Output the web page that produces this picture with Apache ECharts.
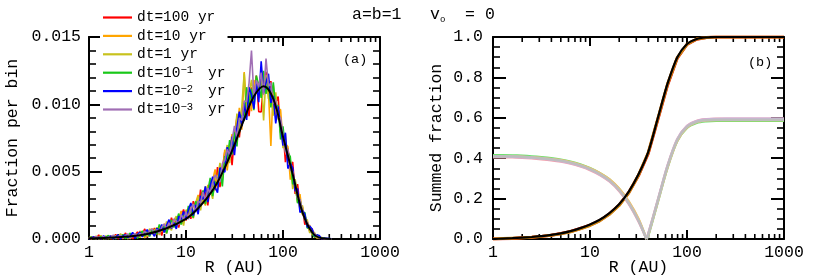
<!DOCTYPE html>
<html><head><meta charset="utf-8">
<script src="https://cdn.jsdelivr.net/npm/echarts@6/dist/echarts.min.js"></script>
<style>html,body{margin:0;padding:0;background:#fff}#c{width:830px;height:276px}</style>
</head><body><div id="c"></div>
<script>
const FONT = '"Liberation Mono", "DejaVu Sans Mono", monospace';

// ---------- panel (a): histogram bins (R in AU) ----------
const binR = [1,1.059,1.122,1.189,1.259,1.334,1.413,1.496,1.585,1.679,
1.778,1.884,1.995,2.113,2.239,2.371,2.512,2.661,2.818,2.985,
3.162,3.35,3.548,3.758,3.981,4.217,4.467,4.732,5.012,5.309,
5.623,5.957,6.31,6.683,7.079,7.499,7.943,8.414,8.913,9.441,
10,10.59,11.22,11.89,12.59,13.34,14.13,14.96,15.85,16.79,
17.78,18.84,19.95,21.13,22.39,23.71,25.12,26.61,28.18,29.85,
31.62,33.5,35.48,37.58,39.81,42.17,44.67,47.32,50.12,53.09,
56.23,59.57,63.1,66.83,70.79,74.99,79.43,84.14,89.13,94.41,
100,105.9,112.2,118.9,125.9,133.4,141.3,149.6,158.5,167.9,
177.8,188.4,199.5,211.3,223.9,237.1,251.2,266.1,281.8,298.5,316.2];

// fraction per bin, in units of 1e-5
const histDt100 = [9,0,17,3,30,0,12,4,19,0, 13,34,1,22,0,45,12,34,0,29, 53,16,34,75,14,51,42,82,34,83,
26,111,91,73,158,101,153,85,166,219, 138,198,150,281,232,206,366,265,347,249, 414,394,363,534,385,521,648,559,700,549,
767,903,754,940,920,1095,912,1126,1045,1213, 946,943,1177,1242,1075,1172,961,1012,1058,790, 818,571,677,538,572,335,407,243,239,107,
128,57,77,13,24,4,7,0,3,0,0];
const histDt10 = [2,17,8,0,15,24,0,16,7,24, 0,18,26,4,35,13,29,1,40,22, 10,59,40,8,58,31,78,27,65,91,
58,96,40,134,95,145,79,149,208,131, 207,170,258,154,269,327,240,301,248,402, 335,434,517,366,497,475,664,510,674,778,
685,799,974,811,1240,948,1094,950,1180,1133, 1050,1259,1095,1184,1098,690,1142,902,962,961, 712,707,686,441,505,404,272,333,180,180,
103,102,32,41,6,20,3,7,0,1,0];
const histDt1 = [13,1,9,21,0,12,6,23,0,17, 6,25,13,39,5,28,0,26,43,14, 39,10,56,37,20,77,37,65,86,29,
79,52,130,93,64,138,169,113,158,100, 216,203,165,256,221,316,212,325,391,300, 368,298,468,439,565,436,600,698,564,743,
713,931,782,979,1230,906,1073,1181,1034,1190, 1097,1200,880,1219,1040,1115,916,1089,888,890, 674,780,566,587,370,445,336,221,249,137,
143,45,60,47,9,16,11,1,4,0,0];
const histDtm1 = [7,15,1,10,4,20,0,12,26,5, 22,0,21,11,33,2,26,44,16,38, 4,35,60,22,51,19,69,57,36,108,
67,99,43,110,141,86,130,189,107,183, 152,245,199,159,280,234,298,361,260,358, 454,319,426,403,520,390,616,584,734,628,
795,687,926,910,879,1127,998,1115,956,1213, 1143,1048,1248,1078,1180,977,1164,968,994,739, 837,653,643,611,408,418,266,294,190,197,
80,90,43,13,33,6,8,7,0,3,0];
const histDtm2 = [0,10,16,2,14,0,24,7,14,23, 1,16,31,1,22,31,9,23,49,5, 33,52,16,48,69,30,49,20,80,52,
108,49,101,144,78,123,75,169,145,205, 142,217,268,174,253,184,320,295,391,274, 395,462,384,344,528,513,496,682,615,760,
622,828,946,840,1011,885,1126,1071,967,1167, 1016,1320,1083,1160,1227,1011,1063,858,984,840, 693,789,523,562,528,356,375,198,215,184,
88,96,75,24,30,25,0,5,5,4,2];
const histDtm3 = [12,3,10,18,2,9,18,0,16,8, 29,5,18,27,9,25,38,6,25,41, 17,42,28,58,31,60,76,42,70,43,
87,111,75,120,84,149,134,105,183,144, 202,146,224,261,200,283,269,349,285,377, 342,421,475,447,423,559,584,666,623,734,
840,752,898,880,1022,1022,1158,1400,1056,1178, 1132,1235,1071,1340,1133,1160,1006,1034,899,901, 770,644,669,514,498,411,304,294,210,137,
125,78,45,40,21,7,8,2,1,0,0];

const seriesLabels = ['dt=100 yr','dt=10 yr','dt=1 yr','dt=10^-1 yr','dt=10^-2 yr','dt=10^-3 yr'];

// smooth fit curve (black)
const fitR = [1,1.585,2.512,3.981,6.31,10,12.59,15.85,19.95,25.12,31.62,39.81,50.12,63.1,79.43,100,125.9,158.5,199.5,251.2,316.2];
const fitVal = [0.00005,0.0001,0.00018,0.00037,0.0008,0.0015,0.0021,0.0029,0.0039,0.0053,0.0070,0.0089,0.0106,0.01135,0.0104,0.0076,0.0048,0.0020,0.0005,0.00005,0];

// ---------- panel (b): summed fractions ----------
const cumR = [1,1.259,1.585,1.995,2.512,3.162,3.981,5.012,6.31,7.943,10,12.59,15.85,19.95,25.12,31.62,39.81,50.12,63.1,79.43,100,125.9,158.5,199.5,251.2,316.2,398.1,501.2,631,794.3,1000];
const cumBlack = [0,0.002,0.004,0.007,0.01,0.014,0.02,0.028,0.039,0.054,0.072,0.095,0.128,0.172,0.235,0.32,0.43,0.60,0.77,0.90,0.965,0.99,0.998,1,1,1,1,1,1,1,1];
const cumRed = [0,0.001,0.003,0.006,0.009,0.013,0.019,0.027,0.037,0.052,0.069,0.091,0.124,0.168,0.23,0.314,0.423,0.592,0.763,0.896,0.963,0.989,0.998,1,1,1,1,1,1,1,1];
const cumOrange = [0,0.002,0.004,0.006,0.009,0.013,0.018,0.026,0.036,0.05,0.067,0.09,0.122,0.166,0.229,0.316,0.427,0.597,0.768,0.898,0.964,0.99,0.998,1,1,1,1,1,1,1,1];

const absR = [1,1.259,1.585,1.995,2.512,3.162,3.981,5.012,6.31,7.943,10,12.59,15.85,19.95,25.12,31.62,38.2,39.81,50.12,63.1,79.43,100,125.9,158.5,199.5,251.2,316.2,398.1,501.2,631,794.3,1000];
const absGreen = [0.415,0.415,0.414,0.412,0.409,0.405,0.40,0.393,0.383,0.369,0.351,0.327,0.295,0.248,0.183,0.097,0,0.015,0.185,0.355,0.485,0.55,0.575,0.583,0.585,0.585,0.585,0.585,0.585,0.585,0.585,0.585];
const absPink = [0.405,0.405,0.404,0.402,0.399,0.395,0.39,0.383,0.373,0.359,0.341,0.317,0.285,0.238,0.173,0.087,0,0.025,0.195,0.365,0.495,0.56,0.585,0.593,0.595,0.595,0.595,0.595,0.595,0.595,0.595,0.595];
const absOrange = [0.41,0.41,0.409,0.407,0.404,0.401,0.396,0.39,0.38,0.367,0.35,0.327,0.296,0.25,0.186,0.1,0,0.018,0.186,0.356,0.487,0.553,0.579,0.587,0.589,0.589,0.589,0.589,0.589,0.589,0.589,0.589];
const absLavender = [0.408,0.408,0.407,0.405,0.402,0.398,0.393,0.386,0.376,0.362,0.344,0.32,0.288,0.241,0.176,0.09,0,0.024,0.194,0.364,0.494,0.559,0.584,0.592,0.594,0.595,0.595,0.595,0.595,0.595,0.595,0.595];
const absGray = [0.41,0.41,0.409,0.407,0.404,0.40,0.395,0.388,0.378,0.364,0.346,0.322,0.29,0.243,0.178,0.092,0,0.02,0.19,0.36,0.49,0.555,0.58,0.588,0.59,0.59,0.59,0.59,0.59,0.59,0.59,0.59];

// minor tick positions on the log R axes
const minorTickR = [2,3,4,5,6,7,8,9,20,30,40,50,60,70,80,90,200,300,400,500,600,700,800,900];

// ---------- layout ----------
const PLOT_H = 202, MINOR_PX = 5;

// ---------- build ----------
const histSets = [histDt100, histDt10, histDt1, histDtm1, histDtm2, histDtm3];
const histColors = ['#ff0000','#ffa500','#c8c21e','#19c819','#0000ff','#a06eb4'];
const pair = (xs, ys, k) => xs.map((x, i) => [x, ys[i] / (k || 1)]);

function lineS(name, data, color, width, xi, yi, extra) {
  return Object.assign({
    type: 'line', name, data, xAxisIndex: xi, yAxisIndex: yi,
    showSymbol: false, symbol: 'none', animation: false, silent: true,
    lineStyle: { color, width }, itemStyle: { color }
  }, extra || {});
}

const series = [];
histSets.forEach((h, i) => series.push(lineS(seriesLabels[i], pair(binR, h, 1e5), histColors[i], 1.6, 0, 0)));
series.push(lineS('fit', pair(fitR, fitVal), '#000', 2, 0, 0, { smooth: 0.4 }));

series.push(lineS('cr', pair(cumR, cumRed), '#e00000', 3, 2, 2));
series.push(lineS('co', pair(cumR, cumOrange), '#d08a10', 3, 2, 2));

function armSeries(ys, color) {
  let k = 0; ys.forEach((v, i) => { if (v < ys[k]) k = i; });
  const pts = pair(absR, ys);
  return [
    lineS('v', pts.slice(0, k + 1), color, 2.4, 2, 2, { smooth: 0.3 }),
    lineS('v', pts.slice(k), color, 2.4, 2, 2, { smooth: 0.3 })
  ];
}
[[absGreen,'#6fe06f'],[absPink,'#f2a0aa'],[absOrange,'#f0c070'],[absLavender,'#cab2de'],[absGray,'#bdbdbd']]
  .forEach(([ys, c]) => series.push(...armSeries(ys, c)));
series.push(lineS('cb', pair(cumR, cumBlack), '#000', 2.2, 2, 2, { smooth: 0.3 }));

const mkAxisLine = () => ({ show: true, onZero: false, lineStyle: { color: '#000', width: 2 } });
const mkLabel = () => ({ color: '#000', fontFamily: FONT, fontSize: 16.5 });

function xAxes(grid) {
  const base = () => ({ gridIndex: grid, type: 'log', logBase: 10, min: 1, max: 1000,
    axisLine: mkAxisLine(), splitLine: { show: false },
    axisTick: { show: true, inside: true, length: 9, lineStyle: { color: '#000', width: 2 } } });
  return [
    Object.assign(base(), { position: 'bottom',
      axisLabel: Object.assign({ margin: 5, formatter: v => String(Math.round(v)) }, mkLabel()),
      name: 'R (AU)', nameLocation: 'middle', nameGap: 20, nameMoveOverlap: false, nameTextStyle: mkLabel() }),
    Object.assign(base(), { position: 'top', axisLabel: { show: false } })
  ];
}
function yAxes(grid, max, interval, minorSplit, digits, name, nameGap, margin) {
  const base = () => ({ gridIndex: grid, type: 'value', min: 0, max, interval,
    axisLine: mkAxisLine(), splitLine: { show: false },
    axisTick: { show: true, inside: true, length: 13, lineStyle: { color: '#000', width: 2 } },
    minorTick: { show: true, splitNumber: minorSplit, length: 7, lineStyle: { color: '#000', width: 1.6 } } });
  return [
    Object.assign(base(), { position: 'left',
      axisLabel: Object.assign({ margin, formatter: v => v.toFixed(digits) }, mkLabel()),
      name, nameLocation: 'middle', nameGap, nameMoveOverlap: false, nameTextStyle: mkLabel() }),
    Object.assign(base(), { position: 'right', axisLabel: { show: false } })
  ];
}

const textGraphics = [
  { type: 'text', x: 352, y: 15, silent: true, z: 10,
    style: { text: 'a=b=1', fill: '#000', fontFamily: FONT, fontSize: 16.5, verticalAlign: 'middle' } },
  { type: 'text', x: 430, y: 15, silent: true, z: 10,
    style: { text: '{a|v}{b|o}{a|  = 0}', fill: '#000', verticalAlign: 'middle',
      rich: { a: { fontFamily: FONT, fontSize: 16.5, lineHeight: 18, color: '#000' },
              b: { fontFamily: FONT, fontSize: 9, lineHeight: 16, verticalAlign: 'bottom', color: '#000' } } } },
  { type: 'text', x: 343, y: 59, silent: true, z: 10,
    style: { text: '(a)', fill: '#000', fontFamily: FONT, fontSize: 13.5, verticalAlign: 'middle' } },
  { type: 'text', x: 748, y: 62, silent: true, z: 10,
    style: { text: '(b)', fill: '#000', fontFamily: FONT, fontSize: 13.5, verticalAlign: 'middle' } }
];

const chart = echarts.init(document.getElementById('c'), null, { renderer: 'canvas' });
chart.setOption({
  backgroundColor: '#fff',
  animation: false,
  grid: [
    { left: 89, top: 37, width: 291, height: PLOT_H, outerBoundsMode: 'none', containLabel: false },
    { left: 493, top: 37, width: 291, height: PLOT_H, outerBoundsMode: 'none', containLabel: false }
  ],
  xAxis: [...xAxes(0), ...xAxes(1)],
  yAxis: [...yAxes(0, 0.015, 0.005, 5, 3, 'Fraction per bin', 68, 8),
          ...yAxes(1, 1, 0.2, 4, 1, 'Summed fraction', 48, 10)],
  legend: {
    data: seriesLabels, orient: 'vertical', left: 100, top: 7, z: 6,
    backgroundColor: '#fff', padding: [3, 2, 3, 3], itemGap: 3.4,
    icon: 'rect', itemWidth: 29, itemHeight: 2.2, selectedMode: false,
    formatter: function (name) {
      const m = name.match(/^(dt=10)\^(-\d)( yr)$/);
      if (m) return '{n|' + m[1] + '}{s|' + m[2].replace('-', '\u2212') + ' }{n|' + m[3] + '}';
      return '{n|' + name + '}';
    },
    textStyle: { color: '#000', fontFamily: FONT, fontSize: 14.5,
      rich: { n: { fontFamily: FONT, fontSize: 14.5, color: '#000' },
              s: { fontFamily: FONT, fontSize: 10.5, verticalAlign: 'top', color: '#000' } } }
  },
  graphic: textGraphics,
  series
});

// x minor ticks (2..9 per decade) on bottom and top frame edges, positioned with the chart's own axes
const tickGraphics = [];
[[0, 0, 0.015], [1, 0, 1]].forEach(([g, ymin, ymax]) => {
  minorTickR.forEach(r => {
    const b = chart.convertToPixel({ gridIndex: g }, [r, ymin]);
    const t = chart.convertToPixel({ gridIndex: g }, [r, ymax]);
    tickGraphics.push({ type: 'line', silent: true, z: 1, shape: { x1: b[0], y1: b[1], x2: b[0], y2: b[1] - MINOR_PX }, style: { stroke: '#000', lineWidth: 1.6 } });
    tickGraphics.push({ type: 'line', silent: true, z: 1, shape: { x1: t[0], y1: t[1], x2: t[0], y2: t[1] + MINOR_PX }, style: { stroke: '#000', lineWidth: 1.6 } });
  });
});
chart.setOption({ graphic: textGraphics.concat(tickGraphics) });
</script></body></html>
